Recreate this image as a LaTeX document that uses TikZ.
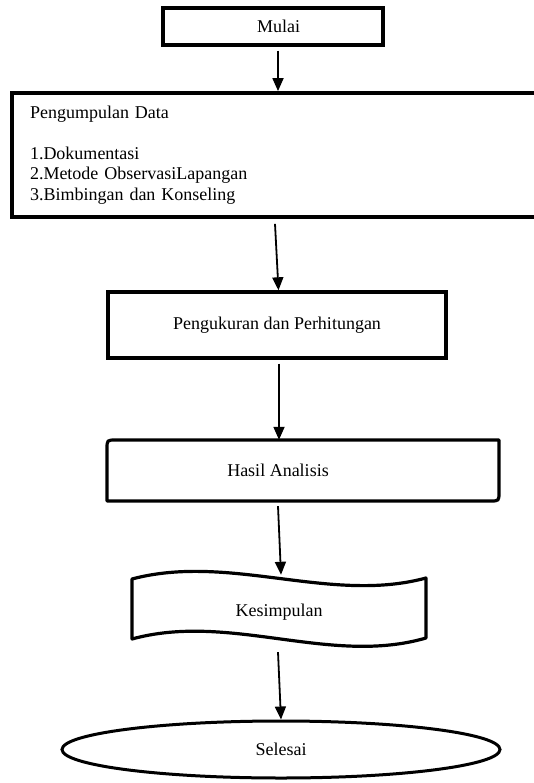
\documentclass[tikz,border=0pt]{standalone}
\usepackage{fontspec}
\setmainfont{Liberation Serif}
\usetikzlibrary{arrows.meta,shapes.geometric}
\begin{document}
\begin{tikzpicture}[x=1pt,y=-1pt,
  every node/.style={font=\fontsize{18}{20.5}\selectfont},
  box/.style={draw,line width=3.4pt,inner sep=0pt},
  outline/.style={line width=3.2pt,line join=round},
  arr/.style={line width=1.8pt,-{Triangle[length=13pt,width=11pt]}}]
\useasboundingbox (0,0) rectangle (534,783);
% Mulai
\node[box,minimum width=220pt,minimum height=37pt,
      label={[xshift=5.5pt]center:Mulai}] (mulai) at (273,26.5) {};
% Pengumpulan Data
\node[box,line width=3.8pt,minimum width=533pt,minimum height=124pt,
      text width=497pt,inner xsep=18pt,align=left] (pd) at (278.5,155)
  {Pengumpulan Data\\[20.5pt]1.Dokumentasi\\2.Metode ObservasiLapangan\\3.Bimbingan dan Konseling};
% Pengukuran
\node[box,minimum width=338pt,minimum height=66pt] (pk) at (277,325)
  {Pengukuran dan Perhitungan};
% Hasil Analisis
\node[inner sep=0pt,minimum height=61pt] (ha) at (278,470.5) {Hasil Analisis};
\draw[outline] (107,501) -- (107,449) .. controls (107,440) .. (116,440)
  -- (499,440) -- (499,492) .. controls (499,501) .. (490,501) -- cycle;
% Kesimpulan
\node[inner sep=0pt,minimum height=74pt] (ks) at (279,612) {Kesimpulan};
\draw[outline] (132,579) .. controls (230,553) and (330,604) .. (426,578)
  -- (426,638) .. controls (330,666) and (230,612) .. (132,639) -- cycle;
% Selesai
\node[draw,ellipse,line width=3pt,inner sep=0pt,minimum width=438pt,
      minimum height=57pt] (sel) at (281,749.5) {Selesai};
% connectors
\draw[arr] ([xshift=5pt,yshift=-4pt]mulai.south) -- ([xshift=5pt]mulai.south |- pd.north);
\draw[arr] ([xshift=-3.5pt,yshift=-5pt]pd.south) -- ([xshift=1.5pt]pk.north);
\draw[arr] ([xshift=2pt,yshift=-4pt]pk.south) -- ([xshift=1pt]ha.north);
\draw[arr] ([yshift=-5pt]ha.south) -- ([xshift=2pt]ks.north);
\draw[arr] ([xshift=-1pt,yshift=-3pt]ks.south) -- (sel.north);
\end{tikzpicture}
\end{document}
